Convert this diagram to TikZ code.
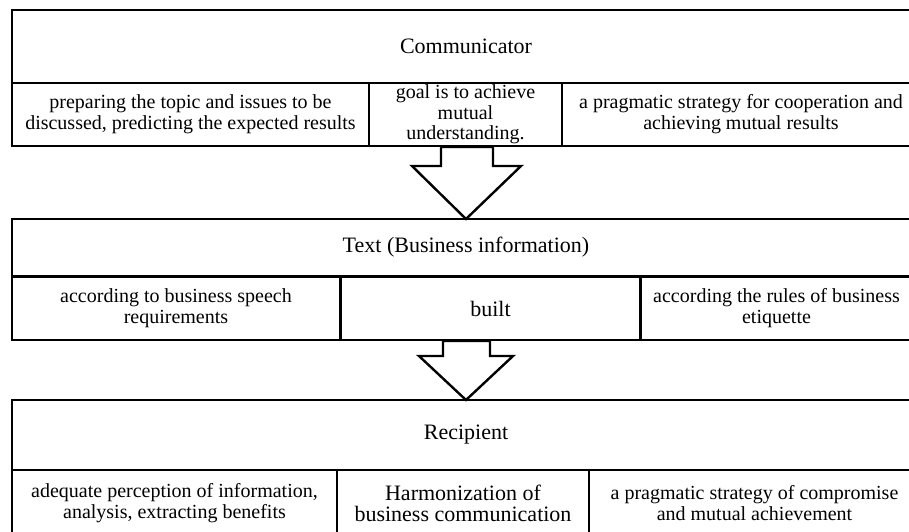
\documentclass[tikz,border=0pt]{standalone}
\usepackage{fontspec}
\setmainfont{Liberation Serif}

\begin{document}
\begin{tikzpicture}[x=1pt, y=-1pt,
    box/.style={draw, line width=2.4pt, inner sep=0pt, outer sep=0pt, align=center,
        font=\fontsize{20}{21}\selectfont},
    bigtext/.style={font=\fontsize{22}{21}\selectfont},
    blockarrow/.style={draw, fill=white, line width=2.4pt, line join=miter}]
    % Page
    \useasboundingbox (0,0) rectangle (909,531);
    \fill[white] (0,0) rectangle (909,531);
    \clip (0,0) rectangle (909,531);

    % Communicator
    \node[box, bigtext, minimum width=908, minimum height=73] (comm) at (466,46.5) {Communicator};
    \node[box, minimum width=357, minimum height=63] (prep) at (190.5,114.5)
        {preparing the topic and issues to be\\discussed, predicting the expected results};
    \node[box, minimum width=193, minimum height=63, font=\fontsize{20}{20.5}\selectfont] (goal) at (465.5,114.5)
        {goal is to achieve\\mutual\\understanding.};
    \node[box, minimum width=358, minimum height=63] (coop) at (741,114.5)
        {a pragmatic strategy for cooperation and\\achieving mutual results};

    % Text (Business information)
    \node[box, bigtext, minimum width=908, minimum height=57] (texthead) at (466,247.5) {Text (Business information)};
    \node[box, minimum width=328, minimum height=63] (speech) at (176,308.5)
        {according to business speech\\requirements};
    \node[box, bigtext, minimum width=299, minimum height=63] (built) at (490.5,308.5) {built};
    \node[box, minimum width=271, minimum height=63] (rules) at (776.5,308.5)
        {according the rules of business\\etiquette};

    % Recipient
    \node[box, bigtext, minimum width=908, minimum height=70] (recphead) at (466,435) {Recipient};
    \node[box, minimum width=325, minimum height=66] (percept) at (174.5,503)
        {adequate perception of information,\\analysis, extracting benefits};
    \node[box, bigtext, minimum width=252, minimum height=66] (harmon) at (463,503)
        {Harmonization of\\business communication};
    \node[box, minimum width=331, minimum height=66] (compro) at (754.5,503)
        {a pragmatic strategy of compromise\\and mutual achievement};

    % Arrows between the blocks
    \draw[blockarrow] (texthead.north) -- ++(-54,-53) -- ++(29,0) -- ++(0,-19)
        -- ++(52,0) -- ++(0,19) -- ++(28,0) -- cycle;
    \draw[blockarrow] (recphead.north) -- ++(-47,-44) -- ++(24,0) -- ++(0,-15)
        -- ++(47,0) -- ++(0,15) -- ++(23,0) -- cycle;
\end{tikzpicture}
\end{document}
